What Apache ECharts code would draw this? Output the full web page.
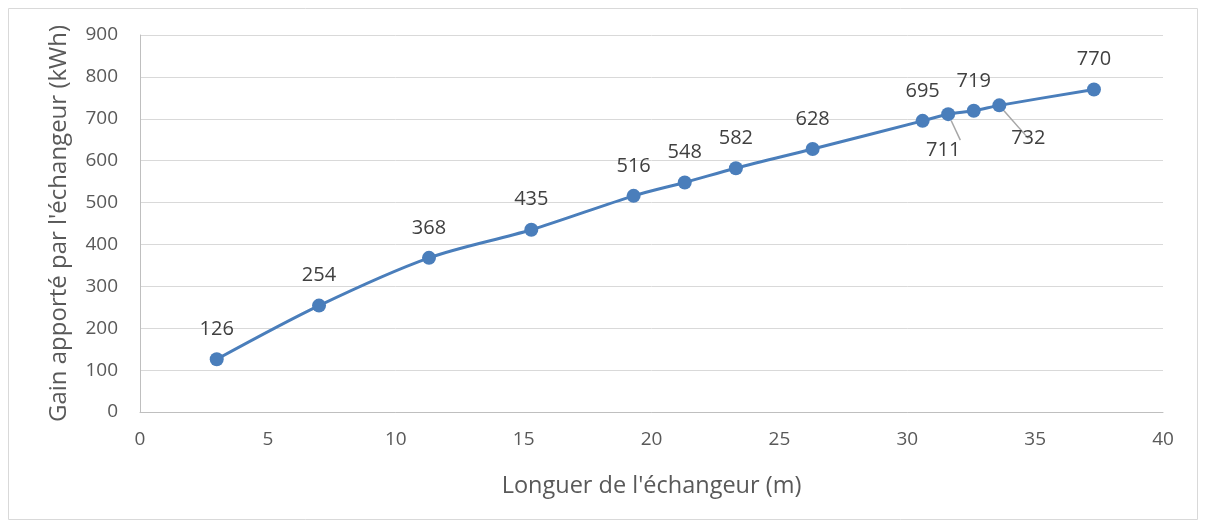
<!DOCTYPE html>
<html><head><meta charset="utf-8">
<script src="https://cdn.jsdelivr.net/npm/echarts@6/dist/echarts.min.js"></script>
<style>html,body{margin:0;padding:0;background:#fff}#c{width:1206px;height:526px}</style>
</head><body><div id="c"></div>
<script>
const lengths = [3, 7, 11.3, 15.3, 19.3, 21.3, 23.3, 26.3, 30.6, 31.6, 32.6, 33.6, 37.3];
const gains = [126, 254, 368, 435, 516, 548, 582, 628, 695, 711, 719, 732, 770];
const xTitle = "Longuer de l'échangeur (m)";
const yTitle = "Gain apporté par l'échangeur (kWh)";
const FONT = "'Open Sans', 'Noto Sans', sans-serif";
const chart = echarts.init(document.getElementById('c'), null, {renderer:'canvas'});
const data = lengths.map((x,i)=>{
  const d = {value:[x, gains[i]]};
  if (gains[i] === 711) { d.label = {position:'bottom', offset:[-5, 6]}; d.labelLine = {show:true}; }
  if (gains[i] === 732) { d.label = {position:'bottom', offset:[29, 3]}; d.labelLine = {show:true}; }
  return d;
});
chart.setOption({
  animation:false,
  graphic:[{type:'rect', shape:{x:8.5,y:8.5,width:1189,height:511}, style:{fill:'none', stroke:'#d9d9d9', lineWidth:1}}],
  grid:{left:140, right:43, top:35, bottom:114},
  xAxis:{type:'value', min:0, max:40, interval:5,
    name:xTitle, nameLocation:'middle', nameGap:62,
    nameTextStyle:{fontFamily:FONT, fontSize:23.5, color:'#595959'},
    axisLine:{show:true, lineStyle:{color:'#bfbfbf', width:1}},
    axisTick:{show:false}, splitLine:{show:false},
    axisLabel:{fontFamily:FONT, fontSize:19, color:'#595959', margin:18}},
  yAxis:{type:'value', min:0, max:900, interval:100,
    name:yTitle, nameLocation:'middle', nameGap:69,
    nameTextStyle:{fontFamily:FONT, fontSize:24, color:'#595959'},
    axisLine:{show:true, lineStyle:{color:'#bfbfbf', width:1}},
    axisTick:{show:false},
    splitLine:{lineStyle:{color:'#d9d9d9', width:1}},
    axisLabel:{fontFamily:FONT, fontSize:19, color:'#595959', margin:22}},
  series:[{type:'line', data:data, smooth:0.3,
    symbol:'circle', symbolSize:14,
    lineStyle:{color:'#4a7ebb', width:3},
    itemStyle:{color:'#4a7ebb'},
    label:{show:true, position:'top', distance:13, fontFamily:FONT, fontSize:20, color:'#404040'},
    labelLine:{show:false, lineStyle:{color:'#a6a6a6', width:1.5}}
  }]
});
</script></body></html>
